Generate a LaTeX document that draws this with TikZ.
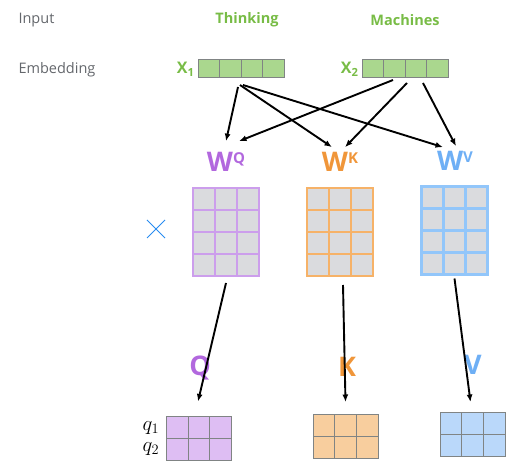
\documentclass[tikz,border=0pt]{standalone}
\usepackage{fontspec}
\setmainfont{Open Sans}
\usetikzlibrary{
    arrows.meta,
    positioning,
    calc,
    shapes.misc
}
\definecolor{TitleGray}{RGB}{100,103,108}
\definecolor{WordGreen}{RGB}{120,188,70}
\definecolor{EmbFill}{RGB}{170,215,142}
\definecolor{CellGray}{RGB}{218,219,222}
\definecolor{EdgeGray}{RGB}{128,132,132}
\definecolor{QDark}{RGB}{178,104,222}
\definecolor{KDark}{RGB}{240,150,58}
\definecolor{VDark}{RGB}{110,175,245}
\definecolor{QLine}{RGB}{204,158,236}
\definecolor{KLine}{RGB}{246,178,104}
\definecolor{VLine}{RGB}{146,198,250}
\definecolor{QFill}{RGB}{222,190,243}
\definecolor{KFill}{RGB}{248,206,158}
\definecolor{VFill}{RGB}{186,216,250}
\definecolor{CrossBlue}{RGB}{40,140,240}

\begin{document}
\begin{tikzpicture}[
    x=1pt, y=-1pt,
    >=Latex,
    rowtitle/.style={text=TitleGray, anchor=west, font=\fontsize{14.5}{16}\selectfont},
    word/.style={text=WordGreen, font=\bfseries\fontsize{14.5}{16}\selectfont},
    embbox/.style={draw=EdgeGray, fill=EmbFill, line width=1pt, outer sep=0pt,
        minimum width=86pt, minimum height=18pt, inner sep=0pt},
    wmat/.style={fill=CellGray, line width=2.6pt, outer sep=0pt,
        minimum width=66pt, minimum height=88pt, inner sep=0pt},
    resbox/.style={draw=EdgeGray, line width=1pt, outer sep=0pt,
        minimum width=65pt, minimum height=44pt, inner sep=0pt},
    bigletter/.style={font=\bfseries\fontsize{27}{29}\selectfont, inner sep=2pt},
    link/.style={-{Latex[length=7.5pt,width=6pt]}, line width=1.9pt}
]
\useasboundingbox (0,0) rectangle (528,465);

% row titles
\node[rowtitle] (input) at (15,20) {Input};
\node[rowtitle] (embedding) at (15,70) {Embedding};

% words and embeddings
\node[word] (thinking) at (247,20) {Thinking};
\node[word] (machines) at (405,20) {Machines};

\node[embbox] (emb1) at (241,69) {};
\node[embbox] (emb2) at (405,69) {};
\foreach \e in {emb1, emb2}
    \foreach \i in {1,2,3}
        \draw[EdgeGray, line width=1pt]
            ($(\e.north west)!\i/4!(\e.north east)$) --
            ($(\e.south west)!\i/4!(\e.south east)$);

\node[word, font=\bfseries\fontsize{16}{18}\selectfont, left=0pt of emb1] (x1) {X\textsubscript{1}};
\node[word, font=\bfseries\fontsize{16}{18}\selectfont, left=0pt of emb2] (x2) {X\textsubscript{2}};

% weight labels
\node[bigletter, text=QDark] (wq) at (226,162)
    {W\raisebox{8pt}{\fontsize{15}{16}\selectfont Q}};
\node[bigletter, text=KDark] (wk) at (340,162)
    {W\raisebox{8pt}{\fontsize{15}{16}\selectfont K}};
\node[bigletter, text=VDark] (wv) at (455,161)
    {W\raisebox{8pt}{\fontsize{15}{16}\selectfont V}};

% weight matrices
\node[wmat, draw=QLine] (wqm) at (226,232) {};
\node[wmat, draw=KLine] (wkm) at (340,232) {};
\node[wmat, draw=VLine] (wvm) at (454.5,230.5) {};
\foreach \m/\col in {wqm/QLine, wkm/KLine, wvm/VLine} {
    \foreach \i in {1,2}
        \draw[\col, line width=2.6pt]
            ($(\m.north west)!\i/3!(\m.north east)$) --
            ($(\m.south west)!\i/3!(\m.south east)$);
    \foreach \j in {1,2,3}
        \draw[\col, line width=2.6pt]
            ($(\m.north west)!\j/4!(\m.south west)$) --
            ($(\m.north east)!\j/4!(\m.south east)$);
}

% multiplication sign
\node[cross out, draw=CrossBlue, line width=1pt, minimum size=17pt, inner sep=0pt] (times) at (156,229) {};

% result letters
\node[bigletter, text=QDark] (qlet) at (200,368) {Q};
\node[bigletter, text=KDark] (klet) at (347,367) {K};
\node[bigletter, text=VDark] (vlet) at (473,365) {V};

% result matrices
\node[resbox, fill=QFill] (qres) at (199,438.5) {};
\node[resbox, fill=KFill] (kres) at (345.5,436) {};
\node[resbox, fill=VFill] (vres) at (472.5,434) {};
\foreach \r in {qres, kres, vres} {
    \foreach \i in {1,2}
        \draw[EdgeGray, line width=1pt]
            ($(\r.north west)!\i/3!(\r.north east)$) --
            ($(\r.south west)!\i/3!(\r.south east)$);
    \draw[EdgeGray, line width=1pt]
        ($(\r.north west)!0.5!(\r.south west)$) --
        ($(\r.north east)!0.5!(\r.south east)$);
}

\node[font=\fontsize{22}{24}\selectfont] (q1) at (151,428) {$q_1$};
\node[font=\fontsize{22}{24}\selectfont] (q2) at (151,449) {$q_2$};

% embedding to weights
\draw[link] ([xshift=-3pt,yshift=-9pt]emb1.south) -- ([xshift=0pt,yshift=9pt]wq.north);
\draw[link] ([xshift=-1pt,yshift=-7pt]emb1.south) -- ([xshift=-8pt,yshift=3pt]wk.north);
\draw[link] ([xshift=2pt,yshift=-7pt]emb1.south) -- ([xshift=-12pt,yshift=2pt]wv.north);
\draw[link] ([xshift=-12pt,yshift=-2pt]emb2.south) -- ([xshift=13pt,yshift=9pt]wq.north);
\draw[link] ([xshift=2pt,yshift=-5pt]emb2.south) -- ([xshift=5pt,yshift=3pt]wk.north);
\draw[link] ([xshift=18pt,yshift=-5pt]emb2.south) -- ([xshift=1pt,yshift=3pt]wv.north);

% weights to results
\draw[link] ([yshift=-7pt]wqm.south) -- ([xshift=-1pt,yshift=15pt]qres.north);
\draw[link] ([xshift=3pt,yshift=-9pt]wkm.south) -- ([yshift=12pt]kres.north);
\draw[link] ([yshift=-4pt]wvm.south) -- ([xshift=-2pt,yshift=10pt]vres.north);

\end{tikzpicture}
\end{document}
